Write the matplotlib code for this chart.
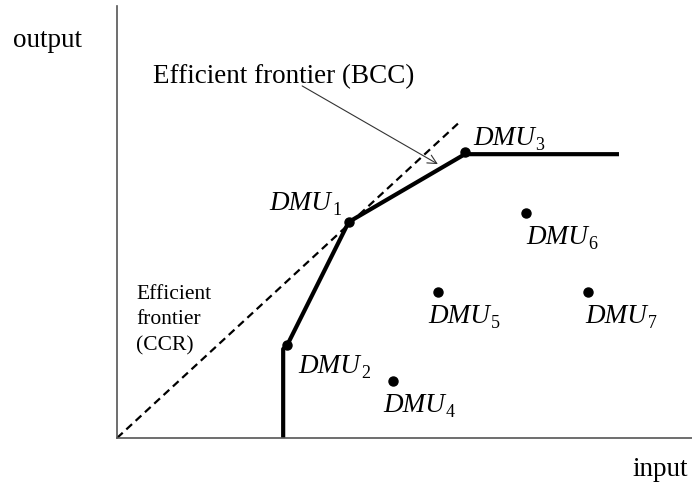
import matplotlib
matplotlib.use('Agg')
import matplotlib.pyplot as plt

# DMU 数据点 (input, output)
dmu_names = ['1', '2', '3', '4', '5', '6', '7']
dmu_x = [4.03, 2.96, 6.05, 4.80, 5.58, 7.11, 8.19]
dmu_y = [5.00, 2.15, 6.62, 1.32, 3.38, 5.21, 3.38]

# BCC 前沿 (折线)
bcc_x = [2.89, 2.89, 2.96, 4.03, 6.05, 8.73]
bcc_y = [0.0, 2.06, 2.15, 5.00, 6.57, 6.57]

# CCR 前沿 (过原点的射线)
ccr_x = [0.0, 5.98]
ccr_y = [0.0, 7.34]

plt.rcParams['font.family'] = ['Liberation Serif', 'DejaVu Serif']

fig = plt.figure(figsize=(6.92, 4.85), dpi=100)
ax = fig.add_axes([117 / 692, 46 / 485, 575 / 692, 432 / 485])
ax.set_xlim(0, 10)
ax.set_ylim(0, 10)

for s in ['top', 'right']:
    ax.spines[s].set_visible(False)
for s in ['left', 'bottom']:
    ax.spines[s].set_color('#555555')
    ax.spines[s].set_linewidth(1.2)
ax.set_xticks([])
ax.set_yticks([])

ax.plot(ccr_x, ccr_y, color='black', lw=1.6, dashes=(3.5, 2.2))
ax.plot(bcc_x, bcc_y, color='black', lw=3.0, solid_capstyle='butt',
        solid_joinstyle='round')
ax.plot(dmu_x, dmu_y, 'o', color='black', ms=6.5)

# 标签偏移 (像素)
offsets = [(-79, 13), (11, -27), (8, 8), (-10, -30), (-10, -30), (0, -30), (-3, -30)]
for name, x, y, (dx, dy) in zip(dmu_names, dmu_x, dmu_y, offsets):
    t = ax.annotate('DMU', (x, y), xytext=(dx * 0.72, dy * 0.72),
                    textcoords='offset points', ha='left', va='baseline',
                    fontsize=19.5, style='italic')
    # 下标
    ax.annotate(name, (1, 0), xycoords=t, xytext=(0.5, 0.5),
                textcoords='offset points', ha='left', va='baseline',
                fontsize=13)

ax.text(0.63, 8.24, 'Efficient frontier (BCC)', fontsize=19.5,
        ha='left', va='baseline')
ax.annotate('', xy=(5.58, 6.34), xytext=(3.22, 8.15),
            arrowprops=dict(arrowstyle='->', lw=0.8, color='#333333',
                            shrinkA=0, shrinkB=0, mutation_scale=16))

ax.text(0.33, 2.06, 'Efficient\nfrontier\n(CCR)', fontsize=15.5,
        ha='left', va='baseline', linespacing=1.45)

fig.text(13 / 692, 1 - 47 / 485, 'output', fontsize=19.5, ha='left', va='baseline')
fig.text(632 / 692, 1 - 476 / 485, 'input', fontsize=19.5, ha='left', va='baseline')

fig.savefig('out.png', dpi=100)
